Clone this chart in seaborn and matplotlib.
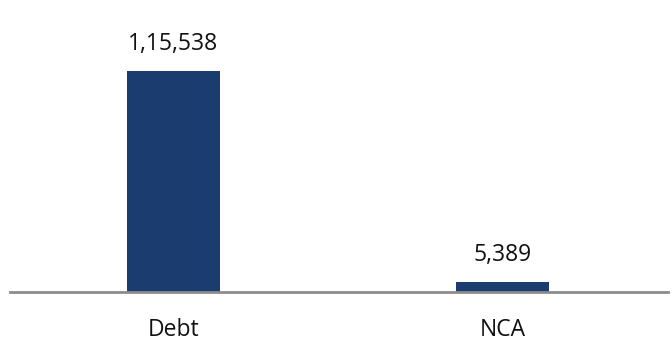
import matplotlib
matplotlib.use("Agg")
import matplotlib.pyplot as plt
import seaborn as sns
import pandas as pd

categories = ["Debt", "NCA"]
values = [115538, 5389]
value_labels = ["1,15,538", "5,389"]

sns.set_theme(style="white")
plt.rcParams['font.family'] = ['Open Sans', 'DejaVu Sans']

df = pd.DataFrame({"cat": categories, "val": values})

fig = plt.figure(figsize=(6.72, 3.51), dpi=100)
ax = fig.add_axes([0.0, (351 - 292) / 351, 1.0, 292 / 351])

sns.barplot(data=df, x="cat", y="val", color="#1a3c6e", width=0.285,
            saturation=1, linewidth=0, ax=ax)

ax.set_xlim(-0.527, 1.515)
ax.set_ylim(0, 115538 * 292 / 221)
for p, lab in zip(ax.patches, value_labels):
    ax.annotate(lab, (p.get_x() + p.get_width() / 2, p.get_height()),
                xytext=(0, 15), textcoords="offset pixels",
                ha="center", va="bottom", fontsize=16.5, color="#111111")

ax.set_xlabel("")
ax.set_ylabel("")
ax.set_yticks([])
ax.tick_params(axis="x", length=0, pad=19, labelsize=16.5, colors="#111111")
for s in ["top", "right", "left"]:
    ax.spines[s].set_visible(False)
ax.spines["bottom"].set_color("#8c8c8c")
ax.spines["bottom"].set_linewidth(2)
ax.spines["bottom"].set_bounds(-0.497, 1.504)
ax.patch.set_alpha(0)

fig.savefig("out.png", dpi=100)
